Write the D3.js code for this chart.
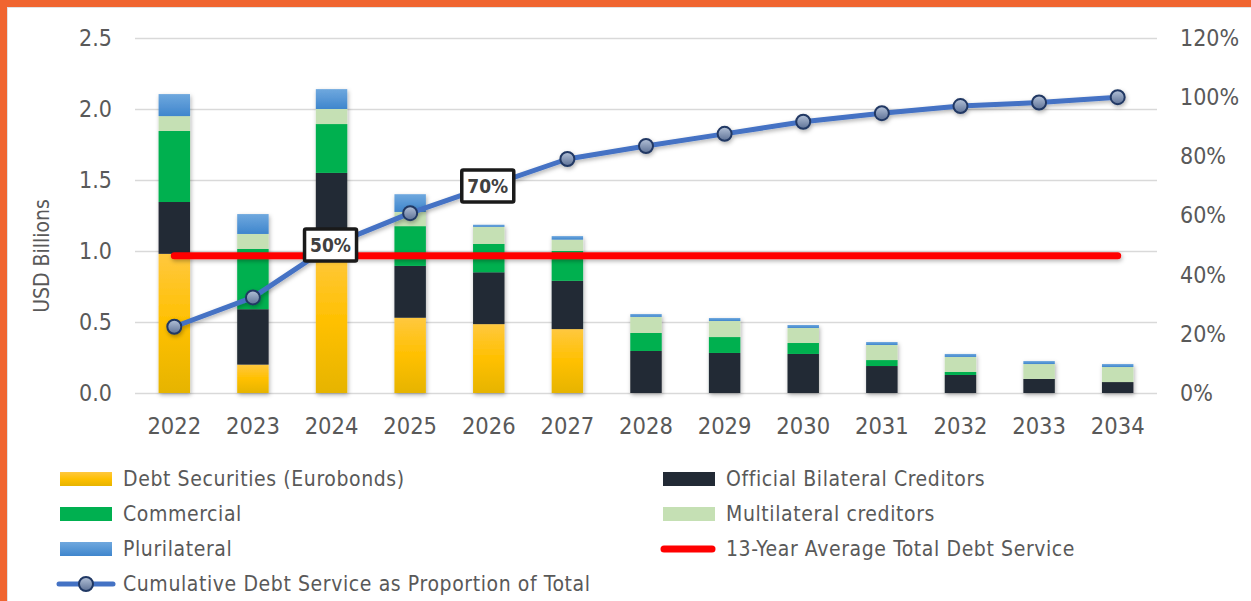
<!DOCTYPE html>
<html>
<head>
<meta charset="utf-8">
<script src="https://cdn.jsdelivr.net/npm/d3@7"></script>
<style>
  body { margin: 0; background: #fff; }
  svg text { font-family: "Liberation Sans Narrow", "DejaVu Sans Condensed", "Liberation Sans", sans-serif; fill: #595959; }
</style>
</head>
<body>
<svg id="chart" width="1251" height="601"></svg>
<script>
// chart data
const years = ["2022", "2023", "2024", "2025", "2026", "2027", "2028", "2029", "2030", "2031", "2032", "2033", "2034"];
const debtSecurities    = [0.98, 0.20, 1.00, 0.53, 0.485, 0.45, 0, 0, 0, 0, 0, 0, 0];
const officialBilateral = [0.365, 0.39, 0.55, 0.365, 0.365, 0.34, 0.296, 0.282, 0.275, 0.19, 0.127, 0.099, 0.077];
const commercial        = [0.50, 0.425, 0.344, 0.28, 0.20, 0.21, 0.127, 0.112, 0.077, 0.042, 0.021, 0, 0];
const multilateral      = [0.105, 0.105, 0.106, 0.10, 0.12, 0.08, 0.113, 0.113, 0.106, 0.106, 0.106, 0.105, 0.106];
const plurilateral      = [0.155, 0.14, 0.14, 0.125, 0.015, 0.025, 0.02, 0.021, 0.021, 0.021, 0.021, 0.021, 0.021];
const cumulativeShare   = [0.224, 0.323, 0.50, 0.608, 0.70, 0.791, 0.835, 0.876, 0.917, 0.946, 0.970, 0.982, 1.00];
const averageService = 0.967;
const labelledYears = ["2024", "2026"];
const leftTicks = [0, 0.5, 1.0, 1.5, 2.0, 2.5];
const rightTicks = [0, 0.2, 0.4, 0.6, 0.8, 1.0, 1.2];

const seriesNames = ["Debt Securities (Eurobonds)", "Official Bilateral Creditors", "Commercial", "Multilateral creditors", "Plurilateral"];
const lineName = "Cumulative Debt Service as Proportion of Total";
const avgName = "13-Year Average Total Debt Service";

const svg = d3.select("#chart");
const plotLeft = 135, plotRight = 1157, plotTop = 38, plotBottom = 393;

// frame
svg.append("rect").attr("x", 0).attr("y", 0).attr("width", 1251).attr("height", 601).attr("fill", "#fff");
svg.append("rect").attr("x", 0).attr("y", 0).attr("width", 1251).attr("height", 7).attr("fill", "#F06530");
svg.append("rect").attr("x", 0).attr("y", 0).attr("width", 7).attr("height", 601).attr("fill", "#F06530");
svg.append("line").attr("x1", 7.5).attr("x2", 7.5).attr("y1", 7).attr("y2", 601).attr("stroke", "#e2e2e2");
svg.append("line").attr("x1", 7).attr("x2", 1251).attr("y1", 7.5).attr("y2", 7.5).attr("stroke", "#e2e2e2");

const defs = svg.append("defs");
const yellowGrad = defs.append("linearGradient").attr("id", "yellowGrad").attr("x1", 0).attr("x2", 0).attr("y1", 0).attr("y2", 1);
yellowGrad.append("stop").attr("offset", "0%").attr("stop-color", "#FFC83F");
yellowGrad.append("stop").attr("offset", "50%").attr("stop-color", "#FFC000");
yellowGrad.append("stop").attr("offset", "100%").attr("stop-color", "#E6B400");
const blueGrad = defs.append("linearGradient").attr("id", "blueGrad").attr("x1", 0).attr("x2", 0).attr("y1", 0).attr("y2", 1);
blueGrad.append("stop").attr("offset", "0%").attr("stop-color", "#6FA8DE");
blueGrad.append("stop").attr("offset", "100%").attr("stop-color", "#3F86CD");
const dotGrad = defs.append("linearGradient").attr("id", "dotGrad").attr("x1", 0).attr("x2", 0).attr("y1", 0).attr("y2", 1);
dotGrad.append("stop").attr("offset", "0%").attr("stop-color", "#B4C2D8");
dotGrad.append("stop").attr("offset", "100%").attr("stop-color", "#5D7196");
// shadow filter in user space so flat lines keep their shadow
const shadow = defs.append("filter").attr("id", "shadow").attr("filterUnits", "userSpaceOnUse")
  .attr("x", 0).attr("y", 0).attr("width", 1251).attr("height", 601);
shadow.append("feDropShadow").attr("dx", 1).attr("dy", 2).attr("stdDeviation", 2).attr("flood-color", "#000").attr("flood-opacity", 0.3);

const colors = ["url(#yellowGrad)", "#222A35", "#00B050", "#C5E0B4", "url(#blueGrad)"];

// scales
const x = d3.scaleBand().domain(years).range([plotLeft, plotRight]).paddingInner(0.6).paddingOuter(0.3);
const y = d3.scaleLinear().domain([0, 2.5]).range([plotBottom, plotTop]);
const y2 = d3.scaleLinear().domain([0, 1.2]).range([plotBottom, plotTop]);
const cx = d => x(d) + x.bandwidth() / 2;

// gridlines
svg.append("g")
  .attr("transform", "translate(" + plotLeft + ",0)")
  .call(d3.axisLeft(y).tickValues(leftTicks).tickSize(-(plotRight - plotLeft)).tickFormat(""))
  .call(g => g.select(".domain").remove())
  .call(g => g.selectAll("line").attr("stroke", "#D9D9D9").attr("stroke-width", 1.5));

// axes labels
svg.append("g")
  .attr("transform", "translate(" + plotLeft + ",0)")
  .call(d3.axisLeft(y).tickValues(leftTicks).tickSize(0).tickPadding(23).tickFormat(d3.format(".1f")))
  .call(g => g.select(".domain").remove())
  .call(g => g.selectAll("text").attr("font-size", 23).attr("font-family", null).attr("fill", "#595959"));

svg.append("g")
  .attr("transform", "translate(" + plotRight + ",0)")
  .call(d3.axisRight(y2).tickValues(rightTicks).tickSize(0).tickPadding(23).tickFormat(d3.format(".0%")))
  .call(g => g.select(".domain").remove())
  .call(g => g.selectAll("text").attr("font-size", 23).attr("font-family", null).attr("fill", "#595959"));

svg.append("g")
  .attr("transform", "translate(0," + plotBottom + ")")
  .call(d3.axisBottom(x).tickSize(0).tickPadding(24))
  .call(g => g.select(".domain").remove())
  .call(g => g.selectAll("text").attr("font-size", 23.5).attr("font-family", null).attr("fill", "#595959"));

svg.append("text")
  .attr("transform", "translate(42,256) rotate(-90)")
  .attr("text-anchor", "middle")
  .attr("dominant-baseline", "central")
  .attr("font-size", 21)
  .text("USD Billions");

// stacked bars
const table = years.map((yr, i) => ({
  year: yr, s0: debtSecurities[i], s1: officialBilateral[i], s2: commercial[i], s3: multilateral[i], s4: plurilateral[i]
}));
const stack = d3.stack().keys(["s0", "s1", "s2", "s3", "s4"])(table);

const barG = svg.append("g").attr("filter", "url(#shadow)");
stack.forEach((layer, k) => {
  barG.selectAll(null)
    .data(layer)
    .enter()
    .append("rect")
    .attr("x", d => x(d.data.year))
    .attr("width", x.bandwidth())
    .attr("y", d => y(d[1]))
    .attr("height", d => y(d[0]) - y(d[1]))
    .attr("fill", colors[k]);
});

// average line
svg.append("line")
  .attr("x1", cx(years[0])).attr("x2", cx(years[years.length - 1]))
  .attr("y1", y(averageService)).attr("y2", y(averageService))
  .attr("stroke", "#FF0000").attr("stroke-width", 7).attr("stroke-linecap", "round")
  .attr("filter", "url(#shadow)");

// cumulative line
const lineG = svg.append("g").attr("filter", "url(#shadow)");
lineG.append("path")
  .datum(cumulativeShare)
  .attr("fill", "none")
  .attr("stroke", "#4472C4")
  .attr("stroke-width", 5)
  .attr("stroke-linejoin", "round")
  .attr("d", d3.line().x((d, i) => cx(years[i])).y(d => y2(d)));
lineG.selectAll("circle")
  .data(cumulativeShare)
  .enter()
  .append("circle")
  .attr("cx", (d, i) => cx(years[i]))
  .attr("cy", d => y2(d))
  .attr("r", 7)
  .attr("fill", "url(#dotGrad)")
  .attr("stroke", "#203864")
  .attr("stroke-width", 2);

// data labels
labelledYears.forEach(yr => {
  const i = years.indexOf(yr);
  const px = cx(yr) - 1, py = y2(cumulativeShare[i]);
  svg.append("rect")
    .attr("x", px - 26).attr("y", py - 16).attr("width", 52).attr("height", 32)
    .attr("fill", "#fff").attr("stroke", "#1a1a1a").attr("stroke-width", 3.5).attr("rx", 1.5);
  svg.append("text")
    .attr("x", px).attr("y", py)
    .attr("text-anchor", "middle").attr("dominant-baseline", "central")
    .attr("font-size", 19).attr("font-weight", "bold").style("fill", "#404040")
    .text(d3.format(".0%")(cumulativeShare[i]));
});

// legend
const legend = svg.append("g");
const legendText = (lx, ly, label) => legend.append("text")
  .attr("x", lx).attr("y", ly)
  .attr("font-size", 21).attr("letter-spacing", 0.6).text(label);
const legendItems = [
  { name: seriesNames[0], fill: colors[0], x: 60, y: 479 },
  { name: seriesNames[1], fill: colors[1], x: 663, y: 479 },
  { name: seriesNames[2], fill: colors[2], x: 60, y: 514 },
  { name: seriesNames[3], fill: colors[3], x: 663, y: 514 },
  { name: seriesNames[4], fill: colors[4], x: 60, y: 549 }
];
legendItems.forEach(d => {
  legend.append("rect").attr("x", d.x).attr("y", d.y - 7).attr("width", 52).attr("height", 14).attr("fill", d.fill);
  legendText(d.x + 63, d.y + 7, d.name);
});
legend.append("line").attr("x1", 664).attr("x2", 712).attr("y1", 549).attr("y2", 549)
  .attr("stroke", "#FF0000").attr("stroke-width", 7).attr("stroke-linecap", "round");
legendText(726, 556, avgName);
legend.append("line").attr("x1", 59).attr("x2", 113).attr("y1", 584).attr("y2", 584)
  .attr("stroke", "#4472C4").attr("stroke-width", 5).attr("stroke-linecap", "round");
legend.append("circle").attr("cx", 86).attr("cy", 584).attr("r", 7)
  .attr("fill", "url(#dotGrad)").attr("stroke", "#203864").attr("stroke-width", 2);
legendText(123, 591, lineName);
</script>
</body>
</html>
